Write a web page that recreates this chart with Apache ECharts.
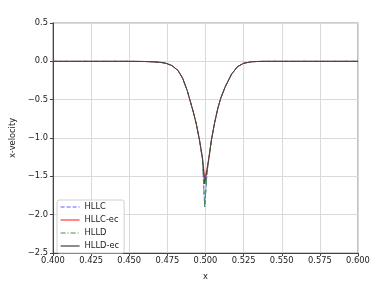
<!DOCTYPE html>
<html>
<head>
<meta charset="utf-8">
<script src="https://cdn.jsdelivr.net/npm/echarts@6/dist/echarts.min.js"></script>
<style>html,body{margin:0;padding:0;background:#fff}#c{width:381px;height:286px}</style>
</head>
<body>
<div id="c"></div>
<script>
// x positions
var xs = [0.400, 0.450, 0.460, 0.465, 0.470, 0.474, 0.478, 0.482, 0.485, 0.488, 0.490, 0.492, 0.494, 0.496, 0.498, 0.4995, 0.501, 0.502, 0.504, 0.506, 0.508, 0.510, 0.513, 0.517, 0.521, 0.525, 0.530, 0.535, 0.540, 0.600];
var hllc   = [0, 0, -0.002, -0.006, -0.012, -0.025, -0.055, -0.12, -0.22, -0.38, -0.52, -0.66, -0.82, -1.02, -1.28, -1.90, -1.45, -1.30, -1.02, -0.80, -0.62, -0.48, -0.33, -0.17, -0.07, -0.025, -0.006, -0.001, 0, 0];
var hllcEc = [0, 0, -0.002, -0.006, -0.012, -0.025, -0.055, -0.12, -0.22, -0.38, -0.52, -0.66, -0.82, -1.02, -1.25, -1.53, -1.40, -1.28, -1.01, -0.80, -0.62, -0.48, -0.33, -0.17, -0.07, -0.025, -0.006, -0.001, 0, 0];
var hlld   = [0, 0, -0.002, -0.006, -0.012, -0.025, -0.055, -0.12, -0.22, -0.38, -0.52, -0.66, -0.82, -1.02, -1.28, -1.90, -1.45, -1.30, -1.02, -0.80, -0.62, -0.48, -0.33, -0.17, -0.07, -0.025, -0.006, -0.001, 0, 0];
var hlldEc = [0, 0, -0.002, -0.006, -0.012, -0.025, -0.055, -0.12, -0.22, -0.38, -0.52, -0.66, -0.82, -1.02, -1.26, -1.60, -1.42, -1.29, -1.01, -0.80, -0.62, -0.48, -0.33, -0.17, -0.07, -0.025, -0.006, -0.001, 0, 0];
var names = ['HLLC', 'HLLC-ec', 'HLLD', 'HLLD-ec'];

function pairs(ys){ return xs.map(function(x,i){ return [x, ys[i]]; }); }
var font = 'DejaVu Sans';
var fs = 8.3;
var chart = echarts.init(document.getElementById('c'), null, {renderer:'canvas'});
function mk(name, ys, color, type, z){
  return {name:name, type:'line', data:pairs(ys), showSymbol:false, symbol:'none', z:z,
    lineStyle:{color:color, width:1, type:type}, itemStyle:{color:color}, animation:false};
}
chart.setOption({
  animation:false,
  grid:{left:53, right:23, top:23, bottom:29, show:true, borderColor:'#999', borderWidth:1.2},
  legend:{orient:'vertical', left:57, top:200, itemWidth:19, itemHeight:8, itemGap:5,
    padding:[3,5,3,3], backgroundColor:'rgba(255,255,255,0.85)', borderColor:'#d0d0d0', borderWidth:1, borderRadius:2,
    itemStyle:{opacity:0}, lineStyle:{width:1.2},
    textStyle:{fontFamily:font, fontSize:fs, color:'#222'}, data:names},
  xAxis:{type:'value', min:0.4, max:0.6, interval:0.025,
    name:'x', nameLocation:'middle', nameGap:20, nameTextStyle:{fontFamily:font, fontSize:fs, color:'#222'},
    axisLine:{show:true, onZero:false, lineStyle:{color:'#444', width:1}},
    axisTick:{show:true, inside:false, length:3, lineStyle:{color:'#444'}},
    axisLabel:{margin:4, fontFamily:font, fontSize:fs, color:'#222', formatter:function(v){return v.toFixed(3);}},
    splitLine:{show:true, lineStyle:{color:'#dadada', width:1}}},
  yAxis:{type:'value', min:-2.5, max:0.5, interval:0.5,
    name:'x-velocity', nameLocation:'middle', nameGap:33, nameTextStyle:{fontFamily:font, fontSize:fs, color:'#222'},
    axisLine:{show:true, onZero:false, lineStyle:{color:'#444', width:1}},
    axisTick:{show:true, inside:false, length:3, lineStyle:{color:'#444'}},
    axisLabel:{margin:5, fontFamily:font, fontSize:fs, color:'#222', formatter:function(v){return (v<0?'\u2212':'')+Math.abs(v).toFixed(1);}},
    splitLine:{show:true, lineStyle:{color:'#dadada', width:1}}},
  series:[
    mk('HLLC', hllc, '#6060ff', [4,2], 3),
    mk('HLLC-ec', hllcEc, '#ff3a3a', 'solid', 4),
    mk('HLLD', hlld, '#3a9a3a', [5,2,1,2], 5),
    mk('HLLD-ec', hlldEc, '#404040', 'solid', 6)
  ]
});
</script>
</body>
</html>
